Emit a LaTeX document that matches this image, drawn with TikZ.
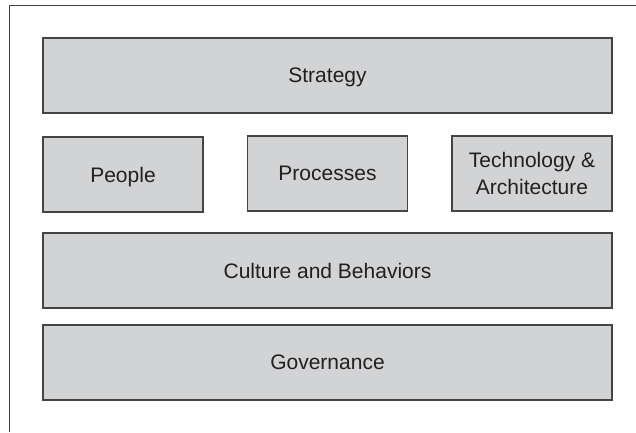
\documentclass[tikz,border=0pt]{standalone}
\usepackage{fontspec}
\setmainfont{Liberation Sans}
\usepackage{tikz}
\definecolor{boxgray}{RGB}{209,211,212}
\definecolor{edgegray}{RGB}{68,68,68}
\definecolor{inkgray}{RGB}{35,31,32}
\newcommand\wide{569}
\newcommand\narrow{160}

\begin{document}
\begin{tikzpicture}[x=1pt, y=-1pt, layer/.style = {draw=edgegray, fill=boxgray, line width=1.2pt, minimum height=75pt, inner sep=0pt, text depth=0pt, text=inkgray, align=center, font=\fontsize{21}{27}\selectfont}]

    \useasboundingbox (0, 0) rectangle (636, 432);

    %Frame
    \coordinate (f_low) at (9.5, 432);
    \coordinate (f_corner) at (9.5, 5.5);
    \coordinate (f_right) at (636, 5.5);
    \draw[edgegray, line width=1.3pt] (f_low) -- (f_corner) -- (f_right);

    \node at (327.5, 75.5) [layer, minimum width=\wide] (strategy) {Strategy};

    \node at (123, 174.5) [layer, minimum width=\narrow] (people) {People};
    \node at (327.5, 173.5) [layer, minimum width=\narrow] (processes) {Processes};
    \node at (532, 173.5) [layer, minimum width=\narrow] (tech) {Technology \&\\Architecture};

    \node at (327.5, 270.5) [layer, minimum width=\wide] (culture) {Culture and Behaviors};
    \node at (327.5, 362.5) [layer, minimum width=\wide] (governance) {Governance};
\end{tikzpicture}
\end{document}
